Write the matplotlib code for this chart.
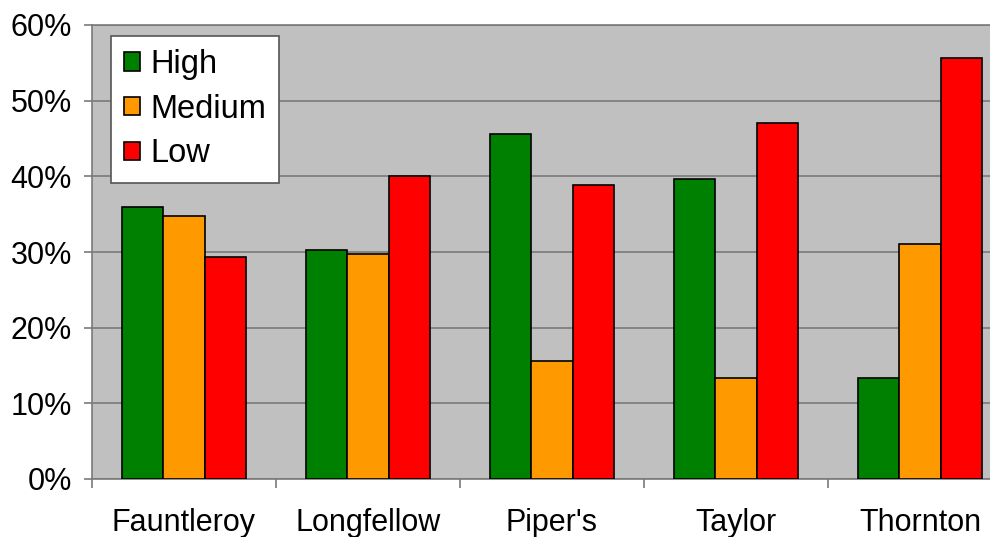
import matplotlib
matplotlib.use("Agg")
import matplotlib.pyplot as plt
import numpy as np
from matplotlib.patches import Patch
from matplotlib.ticker import FixedLocator, PercentFormatter

categories = ["Fauntleroy", "Longfellow", "Piper's", "Taylor", "Thornton"]
series_names = ["High", "Medium", "Low"]
high = [35.9, 30.2, 45.6, 39.7, 13.3]
medium = [34.7, 29.7, 15.6, 13.3, 31.0]
low = [29.3, 40.0, 38.9, 47.1, 55.7]
colors = ["#008000", "#FF9900", "#FF0000"]

plt.rcParams['font.family'] = ['Liberation Sans', 'DejaVu Sans']

fig = plt.figure(figsize=(9.9, 5.37), dpi=100)
ax = fig.add_axes([92/990, (537-479)/537, 920/990, 454/537])
ax.set_facecolor("#C0C0C0")

x = np.arange(len(categories))
w = 0.223
for i, (vals, c) in enumerate(zip([high, medium, low], colors)):
    ax.bar(x + (i - 1) * w, vals, width=w, color=c, edgecolor="black", linewidth=1.2, zorder=3)

ax.set_xlim(-0.5, len(categories) - 0.5)
ax.set_ylim(0, 60)
ax.set_yticks(np.arange(0, 61, 10))
ax.yaxis.set_major_formatter(PercentFormatter(decimals=0))
ax.yaxis.grid(True, color="#7a7a7a", linewidth=1.2, zorder=1)
ax.set_axisbelow(True)

ax.set_xticks(x)
ax.set_xticklabels(categories)
ax.xaxis.set_minor_locator(FixedLocator(np.arange(-0.5, len(categories), 1.0)))
ax.tick_params(axis="x", which="major", length=0, pad=21, labelsize=22)
ax.tick_params(axis="x", which="minor", length=6.5, width=1.2, color="#7a7a7a")
ax.tick_params(axis="y", length=6, width=1.2, color="#7a7a7a", pad=8.5, labelsize=22)

for s in ["left", "bottom", "top"]:
    ax.spines[s].set_color("#7a7a7a")
    ax.spines[s].set_linewidth(1.2)
ax.spines["right"].set_visible(False)

handles = [Patch(facecolor=c, edgecolor="black", linewidth=1.2) for c in colors]
leg = ax.legend(handles, series_names, loc="upper left", bbox_to_anchor=(19/920, 1 - 11/454),
                fontsize=23.5, frameon=True, fancybox=False, framealpha=1, edgecolor="#555555",
                handlelength=0.5, handleheight=0.5, handletextpad=0.3, labelspacing=0.42,
                borderpad=0.4, borderaxespad=0)
leg.get_frame().set_linewidth(1.2)

fig.savefig("out.png", dpi=100)
